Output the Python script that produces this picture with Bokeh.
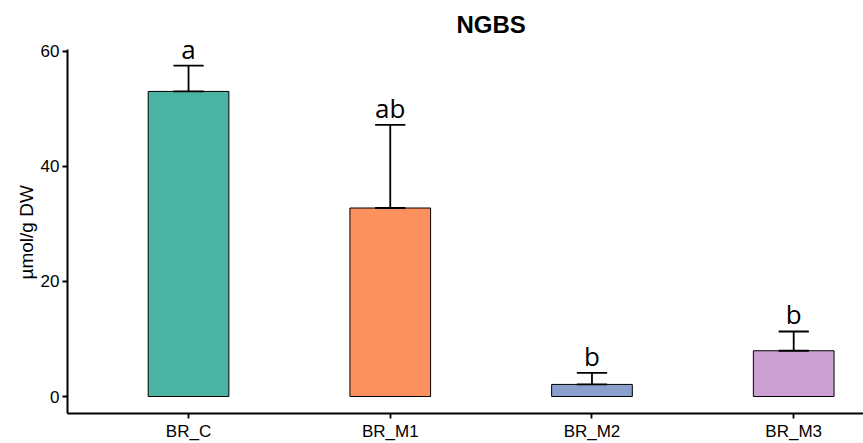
import numpy as np
from bokeh.plotting import figure
from bokeh.models import Range1d, FixedTicker, ColumnDataSource, Title
from bokeh.core.properties import value
from bokeh.embed import file_html
from bokeh.resources import INLINE

# ---- data ----
categories = ["BR_C", "BR_M1", "BR_M2", "BR_M3"]
means = [53.0, 32.75, 2.1, 7.95]
uppers = [57.5, 47.2, 4.1, 11.3]
letters = ["a", "ab", "b", "b"]
colors = ["#4AB3A2", "#FC915F", "#8A9FCB", "#CCA0D2"]
y_ticks = [0, 20, 40, 60]
title_text = "NGBS"
y_label = "µmol/g DW"

xpos = np.arange(1, len(categories) + 1, dtype=float)
bar_w = 0.4
cap_half = 0.075

# panel limits (ggplot-like expansion) and the extra room above for title/letters
y_lo, y_hi = -2.95, 60.25
y_frame_top = 68.8
x_lo, x_hi = 0.4, 4.346

src = ColumnDataSource(dict(
    x=xpos, top=means, upper=uppers, color=colors, letter=letters,
    cx0=xpos - cap_half, cx1=xpos + cap_half,
))

p = figure(width=863, height=443, output_backend="svg", toolbar_location=None,
           x_range=Range1d(x_lo, x_hi), y_range=Range1d(y_lo, y_frame_top),
           min_border_left=67, min_border_right=0, min_border_top=0,
           min_border_bottom=28)
p.outline_line_color = None
p.grid.visible = False
p.background_fill_color = "white"

p.vbar(x="x", top="top", bottom=0, width=bar_w, fill_color="color",
       line_color="black", line_width=1, source=src)
p.segment(x0="x", y0="top", x1="x", y1="upper", line_color="black",
          line_width=1.8, source=src)
p.segment(x0="cx0", y0="upper", x1="cx1", y1="upper", line_color="black",
          line_width=1.8, source=src)
p.segment(x0="cx0", y0="top", x1="cx1", y1="top", line_color="black",
          line_width=1.8, source=src)
p.text(x="x", y="upper", text="letter", source=src, text_align="center",
       text_baseline="alphabetic", y_offset=-17, text_font=value("Open Sans"),
       text_font_size="26px", text_color="black")

# title (centred over the ggplot panel, x = 2.5)
p.text(x=[(x_lo + 4.6) / 2], y=[y_frame_top], text=[title_text],
       text_align="center", text_baseline="top", y_offset=10,
       text_font=value("Liberation Sans"), text_font_size="24px",
       text_font_style="bold", text_color="black")

# axes
p.xaxis.ticker = FixedTicker(ticks=list(xpos))
p.xaxis.major_label_overrides = {float(x): c for x, c in zip(xpos, categories)}
p.xaxis.major_label_overrides.update({int(x): c for x, c in zip(xpos, categories)})
p.yaxis.ticker = FixedTicker(ticks=y_ticks)
p.yaxis.bounds = (y_lo, y_hi)
for ax in (p.xaxis, p.yaxis):
    ax.axis_line_color = "black"
    ax.axis_line_width = 2
    ax.major_tick_line_color = "black"
    ax.major_tick_line_width = 1.8
    ax.major_tick_out = 5
    ax.major_tick_in = 0
    ax.minor_tick_line_color = None
    ax.major_label_text_font = "Liberation Sans"
    ax.major_label_text_font_size = "17px"
    ax.major_label_text_color = "black"
p.yaxis.major_label_standoff = 3
p.xaxis.major_label_standoff = 3

# y-axis title, centred on the visible panel rather than the whole frame
ytitle = Title(text=y_label, align="left", offset=134, standoff=2,
               text_font="Liberation Sans", text_font_size="19px",
               text_font_style="normal", text_color="black")
p.add_layout(ytitle, "left")

open("out.html", "w").write(file_html(p, INLINE))
